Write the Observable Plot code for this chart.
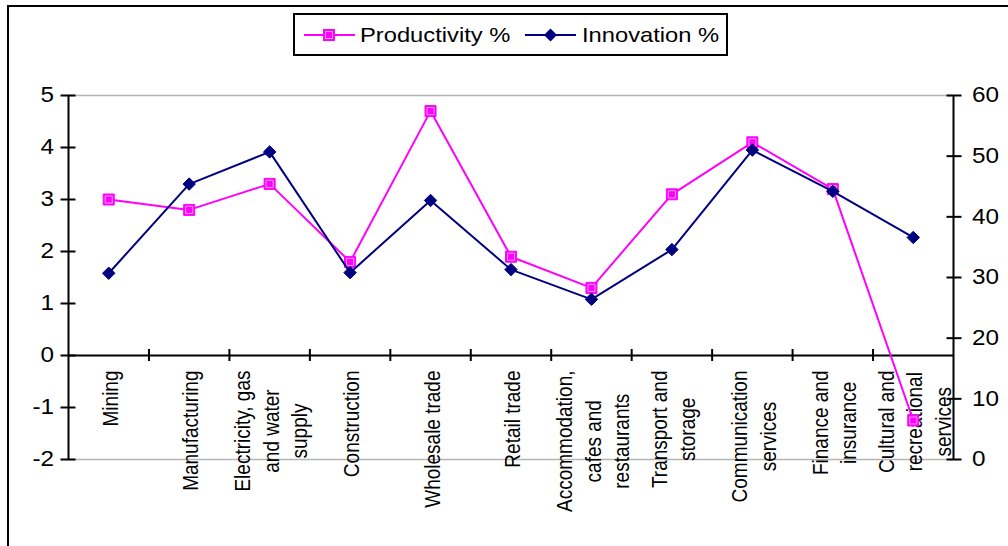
<!DOCTYPE html>
<html>
<head>
<meta charset="utf-8">
<script src="https://cdn.jsdelivr.net/npm/d3@7"></script>
<script src="https://cdn.jsdelivr.net/npm/@observablehq/plot@0.6"></script>
<style>
  body { margin: 0; background: #fff; font-family: "Liberation Sans", Arial, sans-serif; }
  #wrap { position: relative; width: 1008px; height: 546px; overflow: hidden; background: #fff; }
  #frame { position: absolute; left: 7px; top: 5px; width: 1100px; height: 700px; border: 2px solid #000; }
  #chart { position: absolute; left: 0; top: 0; }
  #legend { position: absolute; left: 293px; top: 13px; width: 431px; height: 39px; border: 2px solid #000; background: #fff; font-size: 21px; color: #000; }
  #legend .item { position: absolute; top: 0; height: 39px; display: flex; align-items: center; }
  #legend .label { display: inline-block; transform: scaleX(1.13); transform-origin: left center; white-space: nowrap; }
</style>
</head>
<body>
<div id="wrap">
  <div id="frame"></div>
  <div id="chart"></div>
  <div id="legend">
    <div class="item" style="left:7px">
      <svg width="54" height="20"><line x1="2" y1="10" x2="53" y2="10" stroke="#ff00ff" stroke-width="2"/><rect x="21.5" y="4.5" width="11" height="11" fill="#ff00ff" stroke="#ff00ff"/><rect x="23.5" y="6.5" width="7" height="7" fill="none" stroke="#ff9cff" stroke-width="1"/></svg>
      <span class="label" style="margin-left:4px">Productivity %</span>
    </div>
    <div class="item" style="left:228px">
      <svg width="54" height="20"><line x1="2" y1="10" x2="53" y2="10" stroke="#000080" stroke-width="2"/><path d="M27.5,3.5L34,10L27.5,16.5L21,10Z" fill="#000080"/></svg>
      <span class="label" style="margin-left:5px">Innovation %</span>
    </div>
  </div>
</div>
<script>
// Industry sectors (line breaks follow the wrapped axis labels)
const categories = [
  "Mining",
  "Manufacturing",
  "Electricity, gas\nand water\nsupply",
  "Construction",
  "Wholesale trade",
  "Retail trade",
  "Accommodation,\ncafes and\nrestaurants",
  "Transport and\nstorage",
  "Communication\nservices",
  "Finance and\ninsurance",
  "Cultural and\nrecreational\nservices"
];
// Productivity % (left axis)
const productivity = [3.0, 2.8, 3.3, 1.8, 4.7, 1.9, 1.3, 3.1, 4.1, 3.2, -1.25];
// Innovation % (right axis)
const innovation = [30.7, 45.4, 50.7, 30.8, 42.7, 31.3, 26.4, 34.6, 51.0, 44.2, 36.6];

const leftTicks = [-2, -1, 0, 1, 2, 3, 4, 5];
const rightTicks = [0, 10, 20, 30, 40, 50, 60];

// The right axis (0–60) shares the frame with the left axis (-2–5)
const leftMin = -2, leftMax = 5, rightMin = 0, rightMax = 60;
const toLeft = v => leftMin + (v - rightMin) * (leftMax - leftMin) / (rightMax - rightMin);
const toRight = y => rightMin + (y - leftMin) * (rightMax - rightMin) / (leftMax - leftMin);

const rows = categories.map((c, i) => ({i, c, p: productivity[i], v: toLeft(innovation[i])}));
const pos = d => d.i + 0.5;
const boundaries = d3.range(1, categories.length);

const FONT = '"Liberation Sans", Arial, sans-serif';
const labelSize = 19;
const widen = 1.13; // slightly wide lettering

// Measure each wrapped label so its longest line starts just below the axis
const ctx = document.createElement("canvas").getContext("2d");
ctx.font = `${labelSize}px ${FONT}`;
const longest = categories.map(c => d3.max(c.split("\n"), s => ctx.measureText(s).width));

const labelMarks = categories.map((c, i) =>
  Plot.text([c], {
    x: () => i + 0.5, y: () => 0,
    text: d => d,
    rotate: -90,
    textAnchor: "middle",
    lineAnchor: "middle",
    lineHeight: 1.5 / widen,
    fontSize: labelSize,
    fill: "#000",
    dy: 15 + longest[i] / 2
  })
);

const chart = Plot.plot({
  width: 1008,
  height: 546,
  marginLeft: 68,
  marginRight: 55,
  marginTop: 95,
  marginBottom: 87,
  style: {fontFamily: FONT, background: "none", overflow: "visible"},
  x: {domain: [0, categories.length], axis: null},
  y: {domain: [leftMin, leftMax], axis: null},
  marks: [
    // plot-area top and bottom border
    Plot.ruleY([leftMax, leftMin], {stroke: "#b4b4b4", strokeWidth: 1.5}),
    // left and right value axes
    Plot.axisY(leftTicks, {anchor: "left", tickSize: 15, insetLeft: 7.5, tickPadding: 7, fontSize: 21.5, color: "#000", strokeWidth: 2, tickFormat: d => String(d), label: null}),
    Plot.axisY(rightTicks.map(toLeft), {anchor: "right", tickSize: 15, insetRight: 7.5, tickPadding: 11, fontSize: 21.5, color: "#000", strokeWidth: 2, tickFormat: d => String(Math.round(toRight(d))), label: null}),
    Plot.ruleX([0, categories.length], {stroke: "#000", strokeWidth: 2}),
    // category axis at zero with boundary ticks
    Plot.ruleY([0], {stroke: "#000", strokeWidth: 2}),
    Plot.ruleX(boundaries, {y1: 0, y2: 0, insetTop: -6, insetBottom: -6, stroke: "#000", strokeWidth: 2}),
    ...labelMarks,
    // Productivity series
    Plot.line(rows, {x: pos, y: "p", stroke: "#ff00ff", strokeWidth: 2}),
    Plot.dot(rows, {x: pos, y: "p", symbol: "square", r: 6.2, fill: "#ff00ff", stroke: "#ff00ff", strokeWidth: 1}),
    Plot.dot(rows, {x: pos, y: "p", symbol: "square", r: 4, fill: "none", stroke: "#ff9cff", strokeWidth: 1}),
    // Innovation series
    Plot.line(rows, {x: pos, y: "v", stroke: "#000080", strokeWidth: 2}),
    Plot.dot(rows, {x: pos, y: "v", symbol: "diamond2", r: 5.6, fill: "#000080", stroke: "#000080", strokeWidth: 1})
  ]
});

// Widen the lettering horizontally (on screen) around each text's anchor
chart.querySelectorAll("text").forEach(t => {
  const tr = t.getAttribute("transform");
  if (tr && tr.includes("translate")) {
    t.setAttribute("transform", tr.includes("rotate") ? `${tr} scale(1,${widen})` : `${tr} scale(${widen},1)`);
  } else {
    const x = +(t.getAttribute("x") || 0), y = +(t.getAttribute("y") || 0);
    t.setAttribute("transform", `${tr || ""} translate(${x},${y}) scale(${widen},1) translate(${-x},${-y})`);
  }
});

document.getElementById("chart").appendChild(chart);
</script>
</body>
</html>
